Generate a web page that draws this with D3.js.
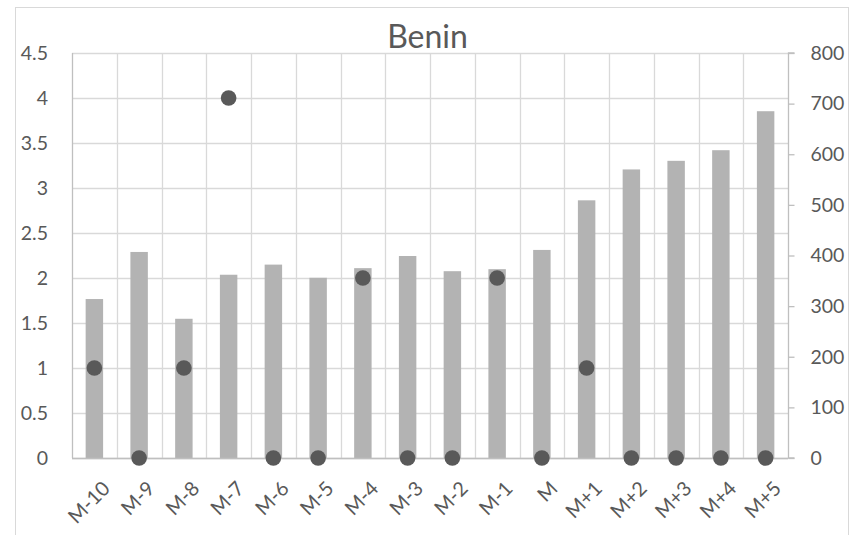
<!DOCTYPE html>
<html>
<head>
<meta charset="utf-8">
<script src="https://cdn.jsdelivr.net/npm/d3@7"></script>
<style>
  html, body { margin: 0; padding: 0; background: #fff; }
  svg { display: block; }
  text { font-family: Lato, "Open Sans", sans-serif; fill: #595959; }
</style>
</head>
<body>
<svg id="chart" width="851" height="535"></svg>
<script>
// Months relative to M
const categories = ["M-10","M-9","M-8","M-7","M-6","M-5","M-4","M-3","M-2","M-1","M","M+1","M+2","M+3","M+4","M+5"];
// Bars, read on the right axis
const barValues = [314, 407, 275, 362, 382, 356, 375, 399, 369, 373, 411, 509, 570, 587, 608, 685];
// Dots, read on the left axis
const dotValues = [1, 0, 1, 4, 0, 0, 2, 0, 0, 2, 0, 1, 0, 0, 0, 0];
const leftTicks = [0, 0.5, 1, 1.5, 2, 2.5, 3, 3.5, 4, 4.5];
const rightTicks = [0, 100, 200, 300, 400, 500, 600, 700, 800];
const title = "Benin";

const svg = d3.select("#chart");
const W = 851, H = 535;
const plot = { left: 72, right: 788, top: 53, bottom: 458 };

// outer chart frame
svg.append("rect")
  .attr("x", 15.5).attr("y", 7.5)
  .attr("width", 833).attr("height", H)
  .attr("fill", "#fff").attr("stroke", "#d9d9d9").attr("stroke-width", 1);

const x = d3.scaleBand().domain(categories).range([plot.left, plot.right]).paddingInner(0).paddingOuter(0);
const yL = d3.scaleLinear().domain([0, 4.5]).range([plot.bottom, plot.top]);
const yR = d3.scaleLinear().domain([0, 800]).range([plot.bottom, plot.top]);

// horizontal gridlines
svg.append("g").selectAll("line").data(leftTicks).join("line")
  .attr("x1", plot.left).attr("x2", plot.right)
  .attr("y1", d => Math.round(yL(d)) + 0.5).attr("y2", d => Math.round(yL(d)) + 0.5)
  .attr("stroke", "#d9d9d9").attr("stroke-width", 1.3);

// vertical gridlines on category boundaries
const bounds = categories.map(c => x(c)).concat([plot.right]);
svg.append("g").selectAll("line").data(bounds.slice(1, -1)).join("line")
  .attr("x1", d => Math.round(d) + 0.5).attr("x2", d => Math.round(d) + 0.5)
  .attr("y1", plot.top).attr("y2", plot.bottom)
  .attr("stroke", "#d9d9d9").attr("stroke-width", 1.3);

// bars
const barW = x.bandwidth() * 0.39;
svg.append("g").selectAll("rect").data(categories).join("rect")
  .attr("x", (c, i) => x(c) + x.bandwidth() / 2 - barW / 2)
  .attr("y", (c, i) => yR(barValues[i]))
  .attr("width", barW)
  .attr("height", (c, i) => yR(0) - yR(barValues[i]))
  .attr("fill", "#b3b3b3");

// axis lines
svg.append("line")
  .attr("x1", plot.left + 0.5).attr("x2", plot.left + 0.5)
  .attr("y1", plot.top).attr("y2", plot.bottom)
  .attr("stroke", "#bfbfbf").attr("stroke-width", 1.3);
svg.append("line")
  .attr("x1", plot.left).attr("x2", plot.right)
  .attr("y1", plot.bottom + 0.5).attr("y2", plot.bottom + 0.5)
  .attr("stroke", "#bfbfbf").attr("stroke-width", 1.3);

// right axis with outward ticks
const rightAxis = d3.axisRight(yR).tickValues(rightTicks).tickSize(6).tickPadding(16).tickFormat(d3.format("d"));
const gR = svg.append("g").attr("transform", `translate(${plot.right + 0.5},0)`).call(rightAxis);
gR.select(".domain").attr("stroke", "#bfbfbf").attr("stroke-width", 1.3).attr("d", `M6,${plot.bottom}H0V${plot.top}H6`);
gR.selectAll(".tick line").attr("stroke", "#bfbfbf").attr("stroke-width", 1.3);
gR.selectAll(".tick text").attr("font-size", 19.5).attr("fill", "#595959").style("font-family", "Lato, sans-serif");

// left axis labels
const leftAxis = d3.axisLeft(yL).tickValues(leftTicks).tickSize(0).tickPadding(24).tickFormat(d => String(d));
const gL = svg.append("g").attr("transform", `translate(${plot.left},0)`).call(leftAxis);
gL.select(".domain").remove();
gL.selectAll(".tick text").attr("font-size", 19.5).attr("fill", "#595959").style("font-family", "Lato, sans-serif");

// dots
svg.append("g").selectAll("circle").data(categories).join("circle")
  .attr("cx", c => x(c) + x.bandwidth() / 2)
  .attr("cy", (c, i) => yL(dotValues[i]))
  .attr("r", 7.8)
  .attr("fill", "#595959");

// category labels, rotated
svg.append("g").selectAll("text").data(categories).join("text")
  .attr("transform", c => `translate(${x(c) + x.bandwidth() / 2 + 7},${plot.bottom + 22}) rotate(-45)`)
  .attr("text-anchor", "end")
  .attr("dy", "0.7em")
  .attr("font-size", 20)
  .text(c => c);

// title
svg.append("text")
  .attr("x", 427.5).attr("y", 48)
  .attr("text-anchor", "middle")
  .attr("font-size", 32)
  .text(title);
</script>
</body>
</html>
